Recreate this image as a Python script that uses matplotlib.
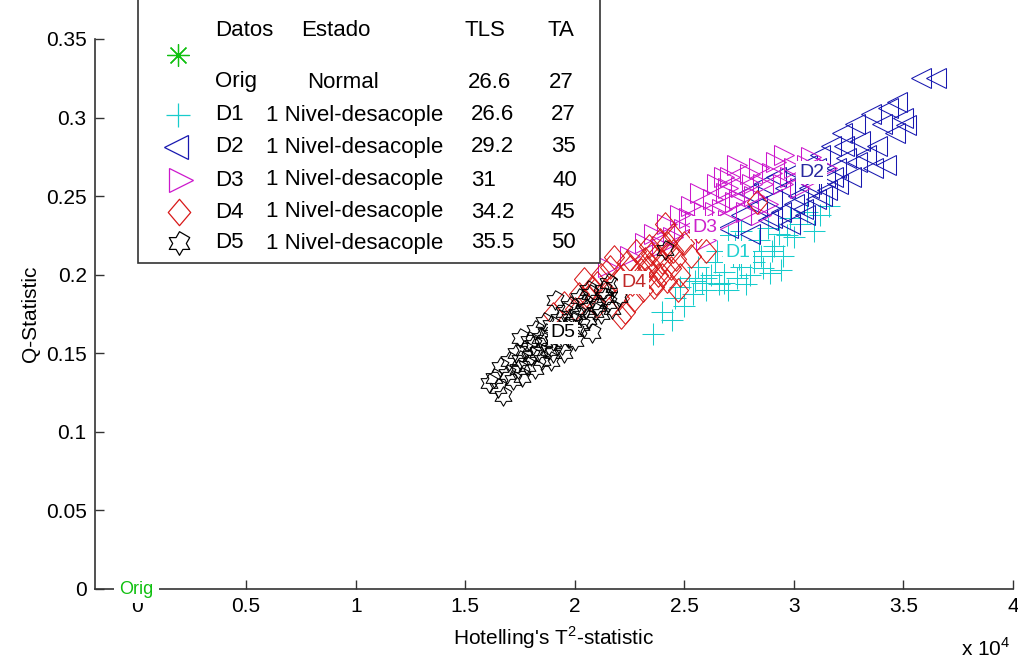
import matplotlib
matplotlib.use("Agg")
import matplotlib.pyplot as plt
import numpy as np
from matplotlib.path import Path
from matplotlib.patches import Rectangle

plt.rcParams['font.family'] = ['Liberation Sans', 'DejaVu Sans']
plt.rcParams['mathtext.fontset'] = 'custom'
plt.rcParams['mathtext.rm'] = 'Liberation Sans'

# Data (T^2 in raw units, Q statistic)
orig_x = [0]
orig_y = [0]

d1_x = [23550, 24450, 24000, 24550, 24800, 25200, 25400, 25600, 25800, 26000,
        26200, 26400, 26600, 26800, 27000, 27200, 27400, 27600, 27800, 28000,
        28200, 28400, 28600, 28800, 28900, 29100, 29300, 29500, 29800, 30000,
        30300, 30600, 30900, 31200, 31600, 27000, 27600, 26500, 25000, 29400,
        26000, 26800, 27500, 28000, 28500, 29000, 27300, 29700, 25500]
d1_y = [0.162, 0.171, 0.176, 0.185, 0.192, 0.198, 0.188, 0.205, 0.195, 0.190,
        0.200, 0.208, 0.194, 0.202, 0.190, 0.212, 0.198, 0.205, 0.194, 0.215,
        0.208, 0.222, 0.204, 0.230, 0.201, 0.218, 0.226, 0.212, 0.236, 0.224,
        0.232, 0.240, 0.228, 0.238, 0.244, 0.225, 0.228, 0.215, 0.180, 0.203,
        0.198, 0.195, 0.210, 0.200, 0.212, 0.215, 0.220, 0.225, 0.196]

d2_x = [27000, 27600, 27900, 28000, 28300, 28600, 28800, 29000, 29200, 29400,
        29600, 29800, 30000, 30200, 30400, 30600, 30800, 31000, 31200, 31400,
        31500, 31700, 31900, 32000, 32200, 32400, 32600, 32800, 33000, 33300,
        33500, 33800, 34000, 34300, 34600, 34700, 35000, 35100, 34200, 35800,
        36500, 30500, 33600, 30000, 30700, 31300, 31800, 32300, 29000, 32900,
        31000]
d2_y = [0.230, 0.238, 0.252, 0.226, 0.244, 0.258, 0.235, 0.248, 0.262, 0.240,
        0.255, 0.232, 0.266, 0.250, 0.242, 0.270, 0.258, 0.248, 0.276, 0.262,
        0.254, 0.282, 0.268, 0.258, 0.290, 0.274, 0.262, 0.296, 0.285, 0.276,
        0.302, 0.282, 0.296, 0.306, 0.290, 0.310, 0.300, 0.295, 0.270, 0.325,
        0.325, 0.238, 0.268, 0.245, 0.255, 0.250, 0.262, 0.282, 0.236, 0.272,
        0.268]

d3_x = [21500, 22500, 23200, 23600, 24000, 24200, 24500, 24800, 25000, 25300,
        25500, 25700, 25900, 26100, 26300, 26500, 26700, 26900, 27100, 27300,
        27400, 27600, 27800, 28000, 28200, 28400, 28600, 28800, 29000, 29200,
        29550, 29800, 30000, 30300, 30600, 31000, 31500, 26000, 27000, 28500,
        26400, 27000, 27500, 28100, 26800, 25200, 29500, 30800]
d3_y = [0.205, 0.212, 0.220, 0.226, 0.218, 0.232, 0.224, 0.238, 0.229, 0.244,
        0.234, 0.252, 0.240, 0.230, 0.248, 0.258, 0.242, 0.252, 0.262, 0.246,
        0.270, 0.256, 0.240, 0.264, 0.250, 0.268, 0.258, 0.245, 0.265, 0.272,
        0.276, 0.262, 0.268, 0.255, 0.270, 0.262, 0.268, 0.222, 0.235, 0.238,
        0.240, 0.255, 0.248, 0.258, 0.262, 0.236, 0.258, 0.275]

d4_x = [19000, 19500, 20000, 20400, 20600, 20800, 21000, 21200, 21400, 21600,
        21800, 21900, 22000, 22100, 22200, 22300, 22400, 22600, 22700, 22800,
        23000, 23100, 23200, 23300, 23400, 23500, 23600, 23700, 23800, 23900,
        24000, 24100, 24200, 24300, 24400, 24500, 24600, 24800, 25000, 25300,
        25600, 26000, 28300, 24700, 23300, 23700, 24200, 23500, 24000, 22900,
        24500, 21000, 20200, 22500]
d4_y = [0.175, 0.182, 0.178, 0.197, 0.186, 0.192, 0.180, 0.200, 0.190, 0.205,
        0.211, 0.196, 0.185, 0.173, 0.200, 0.176, 0.208, 0.194, 0.184, 0.215,
        0.203, 0.190, 0.210, 0.198, 0.218, 0.206, 0.192, 0.212, 0.200, 0.222,
        0.208, 0.232, 0.196, 0.215, 0.204, 0.225, 0.210, 0.200, 0.220, 0.212,
        0.228, 0.215, 0.246, 0.190, 0.205, 0.195, 0.220, 0.213, 0.200, 0.198,
        0.215, 0.195, 0.188, 0.205]

d5_x = [16100, 16300, 16500, 16700, 16600, 16900, 17000, 17200, 17300, 17400,
        17500, 17700, 17800, 17900, 18000, 18100, 18200, 18300, 18400, 18500,
        18600, 18700, 18800, 18900, 19000, 19100, 19200, 19300, 19400, 19500,
        19600, 19700, 19800, 19900, 20000, 20100, 20200, 20300, 20500, 20600,
        20700, 20800, 21000, 21200, 21300, 21500, 21700, 22000, 24100, 21500,
        18200, 17600, 19500, 18600, 19000, 19300, 19800, 20400, 20900, 21400,
        20000, 18900, 17500, 21800, 20600]
d5_y = [0.131, 0.134, 0.128, 0.123, 0.141, 0.137, 0.145, 0.133, 0.150, 0.140,
        0.146, 0.152, 0.142, 0.158, 0.148, 0.155, 0.165, 0.151, 0.160, 0.146,
        0.157, 0.163, 0.152, 0.168, 0.158, 0.184, 0.162, 0.172, 0.155, 0.176,
        0.166, 0.160, 0.180, 0.170, 0.164, 0.175, 0.185, 0.168, 0.178, 0.172,
        0.188, 0.163, 0.180, 0.175, 0.190, 0.182, 0.178, 0.186, 0.216, 0.195,
        0.140, 0.135, 0.150, 0.170, 0.150, 0.165, 0.172, 0.182, 0.176, 0.186,
        0.158, 0.145, 0.160, 0.192, 0.190]

# label anchor points for each cluster
tag_names = ['D5', 'D4', 'D3', 'D1', 'D2']
tag_x = [19450, 22680, 25950, 27450, 30800]
tag_y = [0.163, 0.195, 0.230, 0.214, 0.265]

leg_names = ['D1', 'D2', 'D3', 'D4', 'D5']
leg_tls = ['26.6', '29.2', '31', '34.2', '35.5']
leg_ta = ['27', '35', '40', '45', '50']

xticks = [0, 5000, 10000, 15000, 20000, 25000, 30000, 35000, 40000]
xticklabels = ['0', '0.5', '1', '1.5', '2', '2.5', '3', '3.5', '4']
yticks = [0, 0.05, 0.1, 0.15, 0.2, 0.25, 0.3, 0.35]
yticklabels = ['0', '0.05', '0.1', '0.15', '0.2', '0.25', '0.3', '0.35']

# colours
c_orig = '#10c010'
c1 = '#18cccc'
c2 = '#1818b0'
c3 = '#cc18cc'
c4 = '#d81818'
c5 = '#000000'

# six pointed star (MATLAB hexagram)
ang = np.radians(90 + 30 * np.arange(12))
rad = np.where(np.arange(12) % 2 == 0, 1.0, 1 / np.sqrt(3))
hexa = Path(np.column_stack([rad * np.cos(ang), rad * np.sin(ang)]), closed=True)
diam = Path([(0, 1), (0.85, 0), (0, -1), (-0.85, 0), (0, 1)], closed=True)

W, H = 1018, 658
fig = plt.figure(figsize=(W / 100, H / 100), dpi=100)
ax = fig.add_axes([95 / W, 1 - 589 / H, (1013 - 95) / W, (589 - 39) / H])

kw = dict(linestyle='none', markerfacecolor='none', markeredgewidth=0.75)
ax.plot(d1_x, d1_y, marker='+', markersize=16, color=c1, markeredgecolor=c1, **kw)
ax.plot(d2_x, d2_y, marker='<', markersize=15, color=c2, markeredgecolor=c2, **kw)
ax.plot(d3_x, d3_y, marker='>', markersize=15, color=c3, markeredgecolor=c3, **kw)
ax.plot(d4_x, d4_y, marker=diam, markersize=17, color=c4, markeredgecolor=c4, **kw)
ax.plot(d5_x, d5_y, marker=hexa, markersize=14, color=c5, markeredgecolor=c5, **kw)

tag_cols = [c5, '#c02828', '#cc22cc', '#20d0d0', '#2828a0']
for name, tx, ty, col in zip(tag_names, tag_x, tag_y, tag_cols):
    ax.text(tx, ty, name, color=col, fontsize=14, ha='center', va='center',
            bbox=dict(facecolor='white', edgecolor='none', pad=2), zorder=5)

ax.text(orig_x[0], orig_y[0], 'Orig', color=c_orig, fontsize=13, ha='center',
        va='center', bbox=dict(facecolor='white', edgecolor='none', pad=4),
        zorder=10, clip_on=False)

ax.set_xlim(-1900, 40000)
ax.set_ylim(0, 0.35)
ax.set_xticks(xticks, xticklabels)
ax.set_yticks(yticks, yticklabels)
for s in ['top', 'right']:
    ax.spines[s].set_visible(False)
for s in ['left', 'bottom']:
    ax.spines[s].set_color('#333333')
    ax.spines[s].set_linewidth(1.2)
ax.tick_params(direction='in', length=6.5, width=1.0, color='#333333',
               labelsize=15, pad=6)
ax.set_xlabel("Hotelling's T$^{2}$-statistic", fontsize=15, labelpad=6)
ax.set_ylabel('Q-Statistic', fontsize=15, labelpad=4)
fig.text(1010 / W, 1 - 648 / H, r'x 10$^{4}$', fontsize=15, ha='right', va='center')

# legend table drawn in pixel coordinates
lax = fig.add_axes([0, 0, 1, 1], zorder=20)
lax.set_xlim(0, W)
lax.set_ylim(H, 0)
lax.axis('off')
lax.add_patch(Rectangle((138, -10), 600 - 138, 263 + 10, facecolor='white',
                        edgecolor='#333333', linewidth=1.2))
fs = 16
lax.text(215, 30, 'Datos', fontsize=fs, va='center')
lax.text(301, 30, 'Estado', fontsize=fs, va='center')
lax.text(465, 30, 'TLS', fontsize=fs, va='center')
lax.text(548, 30, 'TA', fontsize=fs, va='center')
lax.plot([178], [55], marker=(8, 2, 0), markersize=16, color=c_orig,
         markeredgewidth=0.9, linestyle='none')
lax.text(215, 82, 'Orig', fontsize=fs, va='center')
lax.text(307, 82, 'Normal', fontsize=fs, va='center')
lax.text(468, 82, '26.6', fontsize=fs, va='center')
lax.text(549, 82, '27', fontsize=fs, va='center')

row_y = [115, 147, 180, 212, 243]
leg_mk = [('+', 17, c1, 178), ('<', 17, c2, 176), ('>', 17, c3, 181),
          (diam, 19, c4, 179), (hexa, 17, c5, 179)]
for yy, name, tls, ta, (mk, ms, col, mx) in zip(row_y, leg_names, leg_tls, leg_ta, leg_mk):
    lax.plot([mx], [yy], marker=mk, markersize=ms, markeredgecolor=col,
             markerfacecolor='none', markeredgewidth=0.9, linestyle='none')
    lax.text(215, yy, name, fontsize=fs, va='center')
    lax.text(266, yy, '1 Nivel-desacople', fontsize=fs, va='center')
    lax.text(471, yy, tls, fontsize=fs, va='center')
    lax.text(551 if ta != '40' else 553, yy, ta, fontsize=fs, va='center')

fig.savefig('out.png', dpi=100)
